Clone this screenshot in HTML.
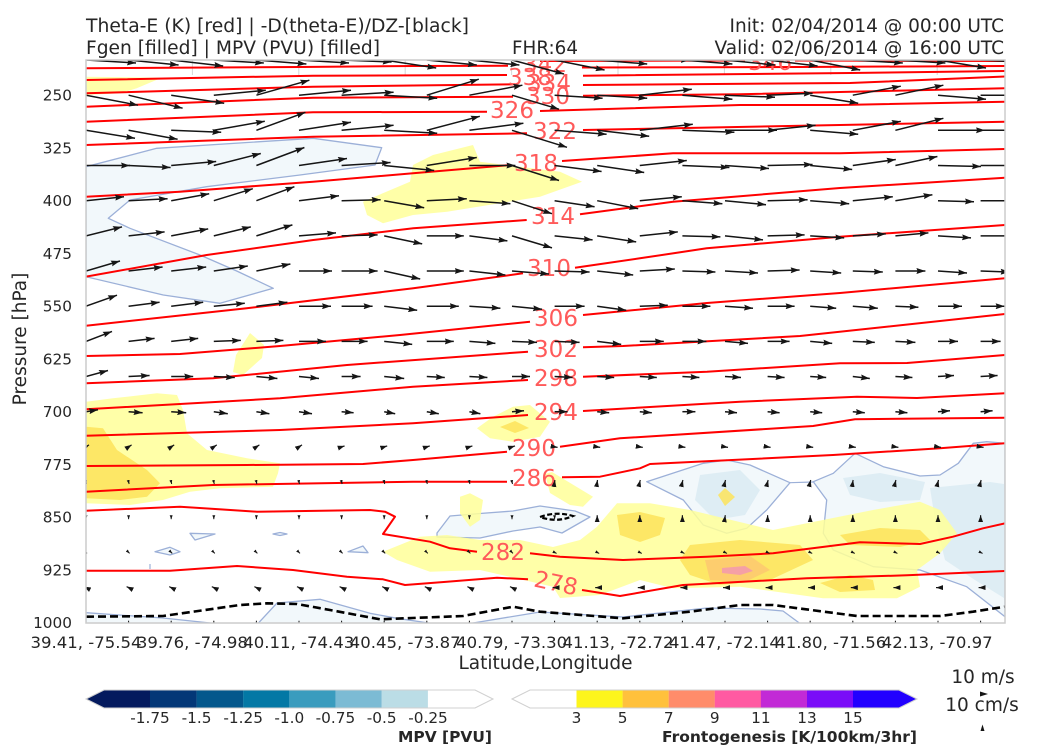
<!DOCTYPE html>
<html><head><meta charset="utf-8"><style>
html,body{margin:0;padding:0;background:#fff;overflow:hidden;}
svg{display:block;}
</style></head><body>
<svg width="1050" height="750" viewBox="0 0 1050 750" xmlns="http://www.w3.org/2000/svg" font-family="'DejaVu Sans', 'Liberation Sans', sans-serif">
<defs>
<clipPath id="p"><rect x="86" y="60" width="919" height="563"/></clipPath>
<marker id="a" viewBox="0 0 9 6" refX="9" refY="3" markerWidth="9" markerHeight="6" markerUnits="userSpaceOnUse" orient="auto"><path d="M0,0L9,3L0,6L1.2,3Z" fill="#151515"/></marker>
<marker id="b" viewBox="0 0 7 5" refX="7" refY="2.5" markerWidth="7" markerHeight="5" markerUnits="userSpaceOnUse" orient="auto"><path d="M0,0L7,2.5L0,5Z" fill="#151515"/></marker>
<marker id="c" viewBox="0 0 4 3" refX="4" refY="1.5" markerWidth="4" markerHeight="3" markerUnits="userSpaceOnUse" orient="auto"><path d="M0,0L4,1.5L0,3Z" fill="#151515"/></marker>
</defs>
<rect x="0" y="0" width="1050" height="750" fill="#fff"/>

<g clip-path="url(#p)">
<g stroke="#d6d6d6" stroke-width="1">
<line x1="192.4" y1="60" x2="192.4" y2="75"/><line x1="298.8" y1="60" x2="298.8" y2="75"/><line x1="405.2" y1="60" x2="405.2" y2="75"/><line x1="511.6" y1="60" x2="511.6" y2="75"/><line x1="618" y1="60" x2="618" y2="75"/><line x1="724.4" y1="60" x2="724.4" y2="75"/><line x1="830.8" y1="60" x2="830.8" y2="75"/><line x1="937.2" y1="60" x2="937.2" y2="75"/>
</g>

<g fill="#f2f8fb" stroke="#9cb0d8" stroke-width="1.3" stroke-linejoin="round">
<path d="M86,166.7L156.7,148.3L313.3,138.3L381.7,147.7L375,165L300,175L206.7,186.7L130,200L108.3,218.3L130,228.3L200,255L236.7,271L273.3,288.3L220,303.3L163.3,295L86,276.7Z"/>
<path d="M437,533L450,516L480,513.5L513,511L540,506L575,511L590,517L562,533L540,527L513,531L480,538L437,537Z"/>
<path d="M646.7,481.7L703.3,463.3L726.7,460L750,465L790,482.7L766.7,510L746.7,528.3L726.7,533.3L703.3,525L683.3,500Z"/>
<path d="M813.3,481.7L833.3,473.3L855,453.3L883.3,466.7L920,476L940,475L958.3,463.3L973.3,443.3L986.7,441.7L1005,443.3L1005,616.7L966.7,586.7L920,570L873.3,566.7L833.3,550L823.3,533.3L826.7,500Z"/>
<path d="M86,612.7L163,618L215,623.5L86,623.5Z"/>
<path d="M258,623.5L277,603L320,599.3L370,613.3L397,618.3L432,623.5Z"/>
<path d="M470,623.5L540,612L623,617L707,608L760,609L783,611L800,623.5Z"/>
<path d="M190,533.3L215,534L195,540Z"/>
<path d="M155,551.7L170,547.3L180,551.7L170,555Z"/>
<path d="M273,534L280,532.5L287,534L280,535.5Z"/>
<path d="M348,551.7L363,546L368,552.7Z"/>
</g>
<line x1="150" y1="564" x2="150" y2="569" stroke="#9cb0d8" stroke-width="1.2"/>
<line x1="790" y1="482.7" x2="813" y2="482" stroke="#9cb0d8" stroke-width="1.2"/>
<g fill="#deedf4">
<path d="M700,475L740,470L760,490L745,515L715,520L695,500Z"/>
<path d="M843,478L880,473L925,482L920,500L880,502L850,495Z"/>
<path d="M930,488L990,482L1004,484L1004,598L975,580L945,560L935,520Z"/>
</g>

<g fill="#ffff99" fill-opacity="0.85">
<path d="M86,76.7L161.7,77.7L136.7,88.3L120,93.3L86,95Z"/>
<path d="M413,165L433,155L473,145L480,161.7L560,171.7L582,181.7L540,196.7L447,211.7L413,215L383,223.3L367,215L363,201.7L410,181.7Z"/>
<path d="M250,333L264,345L262,358L243,375L233,372L236,355Z"/>
<path d="M86,401.7L113,398.3L157,393.3L177,395L183,410L187,433.3L207,450L247,458.3L280,463.3L278,473.3L273,486.7L220,488.3L190,491.7L163,500L130,505L86,503.3Z"/>
<path d="M477,428.3L493,416.7L513,406.7L530,405L550,421.7L540,436.7L513,441.7L490,438.3Z"/>
<path d="M545,474L552,472L593,496.7L583,506.7L570,505L550,493Z"/>
<path d="M460,496.7L470,493.3L483,500L480,520L470,526.7L460,513.3Z"/>
<path d="M383,551.7L420,536.7L447,535L480,540L520,540L553,547L580,540L597,526.7L617,503.3L650,503.3L690,510L773,530L823,520L873,510L920,501.7L940,510L957,533.3L940,553.3L917,570L920,586.7L897,598.3L823,598.3L740,586.7L673,588.3L640,580L600,595L560,598L553,586.7L480,570L430,571.7L397,560Z"/>
</g>
<g fill="#fde35a" fill-opacity="0.85">
<path d="M86,426.7L103,428.3L117,450L147,470L160,483.3L147,496.7L120,500L86,498.3Z"/>
<path d="M500,427L515,421L529,428L515,433Z"/>
<path d="M617,515L640,512L665,518L660,535L640,542L620,535Z"/>
<path d="M690,545L740,540L800,545L813,560L770,580L720,585L690,575L680,560Z"/>
<path d="M820,583L850,575L873,580L875,590L840,592Z"/>
<path d="M840,535L880,528L920,530L930,540L900,547L850,545Z"/>
<path d="M718,495L725,488L735,497L725,506Z"/>
</g>
<path d="M705,560L750,556L770,570L745,582L710,580Z" fill="#fdc870" fill-opacity="0.85"/>
<path d="M722,568L745,566L753,571L740,575L722,573Z" fill="#f5a0a5"/>

<g fill="none" stroke="#ff0000" stroke-width="2" stroke-linejoin="round">
<path d="M540,61L745,60.5M795,60.5L1005,61"/>
<path d="M86,68.3L300,67L413,66L508,65.7M582,67.5L800,67L1005,66"/>
<path d="M86,80L313,75.7L507,75M583,75.7L850,73L1005,71"/>
<path d="M86,93.3L313,86.7L515,84.3M583,85L850,83L1005,76.5"/>
<path d="M86,106.7L313,97.7L513,96.7M583,95.7L740,94.3L1005,88.3"/>
<path d="M86,121.7L313,112.3L487,111.7M540,111L740,105L840,105L1005,101.7"/>
<path d="M86,145L313,136.7L527,133.3M583,130L840,125L1005,121.7"/>
<path d="M86,196.7L180,191.7L313,181.7L413,173.3L510,165M562,161L673,153.3L840,153.3L1005,149"/>
<path d="M86,276.7L206.7,255L313.3,240L413.3,228.3L526.7,220M580,214.3L673,201.7L840,188L1005,177.7"/>
<path d="M86,325.7L246.7,308.3L413.3,288.3L523,273.3M575,267.7L640,258.3L706.7,248.3L840,236.7L1005,225"/>
<path d="M86,356L180,354L280,346L400,335L530,321.7M583,315L707,303L840,293L1005,278.3"/>
<path d="M86,383.3L213,378.3L347,365L528,351.7M583,347.3L623,346L800,336L1005,314"/>
<path d="M86,409.3L280,398.3L413,386.7L528,380M583,376.7L707,371.7L840,363.3L907,363L1005,355"/>
<path d="M86,435.7L280,430L413,423.3L528,415M583,411L740,401.7L857,396.7L917,398L1005,393.3"/>
<path d="M86,466L247,465L363,464L413,460L507,451.7M560,446.7L620,438.3L813,426L855,419.3L1005,417.7"/>
<path d="M86,491.7L213,485L413,481.7L507,481.7M562,477.3L600,476.7L640,468.3L650,464L833,455L940,448.3L1005,443.3"/>
<path d="M86,510.7L180,506.7L257,511.7L370,510L385,511.7L395,516.7L383,534L430,541.7L450,548.3L477,551.7M530,553.3L560,556.7L623,560L707,556.7L773,553.3L860,542.3L920,544L953,536.7L983,528.3L1005,523.3"/>
<path d="M86,570.7L170,570.7L237,566L293,570L347,576.7L383,579.3L405,585L447,581.7L497,577.7L528,579.3M582,590L620,596L683,585L807,578.3L907,575.3L1005,571"/>
</g>

<g fill="none" stroke="#000" stroke-width="2.6" stroke-dasharray="8,4">
<path d="M86,616.7L163,616L240,605L267,603.3L297,604L330,610L380,619.3L463,616L513,606.7L540,611.7L560,613.3L623,618.3L690,611.7L740,605L773,605L857,616L940,616L973,611.7L1005,606.7"/>
<path d="M540,517Q556,511 573,516Q557,523 540,517Z" stroke-dasharray="5,2.5" stroke-width="2.2"/>
</g>

<g fill="#ff5a5a" font-size="23" text-anchor="middle">
<text x="770" y="70">346</text>
<text x="545" y="72">342</text>
<text x="530" y="85">338</text>
<text x="549" y="91">334</text>
<text x="548" y="104">330</text>
<text x="512" y="118">326</text>
<text x="555" y="139">322</text>
<text x="536" y="171">318</text>
<text x="553" y="224">314</text>
<text x="549" y="276">310</text>
<text x="556" y="326">306</text>
<text x="556" y="357">302</text>
<text x="556" y="386">298</text>
<text x="556" y="420">294</text>
<text x="534" y="456">290</text>
<text x="534" y="486">286</text>
<text x="503" y="560">282</text>
<text x="556" y="591" transform="rotate(12 556 583)">278</text>
</g>

<g fill="none" stroke="#151515" stroke-width="1.5" marker-end="url(#a)">
<path d="M86,60l50,3"/><path d="M128.6,60l50,5"/><path d="M171.2,60l52,6"/><path d="M213.8,60l50,3"/><path d="M256.4,60l50,4"/><path d="M299,60l50,3"/><path d="M341.6,60l50,2"/><path d="M384.2,60l52,8"/><path d="M426.8,60l50,5"/><path d="M469.4,60l50,5"/><path d="M512,60l52,14"/><path d="M554.6,60l50,10"/><path d="M597.2,60l50,4"/><path d="M639.8,60l50,0"/><path d="M682.4,60l50,4"/><path d="M725,60l50,5"/><path d="M767.6,60l50,6"/><path d="M810.2,60l50,10"/><path d="M852.8,60l50,3"/><path d="M895.4,60l50,3"/><path d="M938,60l48,8"/><path d="M980.6,60l40,2"/>

<path d="M86,95.2l52,10"/><path d="M128.6,95.2l54,13"/><path d="M171.2,95.2l53,8"/><path d="M213.8,95.2l52,-5"/><path d="M256.4,95.2l53,-15"/><path d="M299,95.2l52,-5"/><path d="M341.6,95.2l52,-3"/><path d="M384.2,95.2l53,3"/><path d="M426.8,95.2l52,-16"/><path d="M469.4,95.2l53,-10"/><path d="M512,95.2l47,14"/><path d="M554.6,95.2l48,3"/><path d="M597.2,95.2l50,3"/><path d="M639.8,95.2l52,-6"/><path d="M682.4,95.2l50,4"/><path d="M725,95.2l50,2"/><path d="M767.6,95.2l45,-2"/><path d="M810.2,95.2l48,8"/><path d="M852.8,95.2l48,-9"/><path d="M895.4,95.2l48,-10"/><path d="M938,95.2l48,4"/><path d="M980.6,95.2l40,0"/>

<path d="M86,130.3l49,8"/><path d="M128.6,130.3l49,9"/><path d="M171.2,130.3l50,2"/><path d="M213.8,130.3l51,-9"/><path d="M256.4,130.3l49,-18"/><path d="M299,130.3l52,-8"/><path d="M341.6,130.3l52,-5"/><path d="M384.2,130.3l53,3"/><path d="M426.8,130.3l53,-14"/><path d="M469.4,130.3l54,-7"/><path d="M512,130.3l55,17"/><path d="M554.6,130.3l52,4"/><path d="M597.2,130.3l52,6"/><path d="M639.8,130.3l53,-6"/><path d="M682.4,130.3l52,2"/><path d="M725,130.3l52,0"/><path d="M767.6,130.3l48,-5"/><path d="M810.2,130.3l48,4"/><path d="M852.8,130.3l48,-9"/><path d="M895.4,130.3l48,-12"/><path d="M938,130.3l47,0"/><path d="M980.6,130.3l47,0"/>

<path d="M86,165.5l44,0"/><path d="M128.6,165.5l42,2"/><path d="M171.2,165.5l45,-4"/><path d="M213.8,165.5l47,-12"/><path d="M256.4,165.5l48,-18"/><path d="M299,165.5l48,-7"/><path d="M341.6,165.5l49,-3"/><path d="M384.2,165.5l50,5"/><path d="M426.8,165.5l50,-8"/><path d="M469.4,165.5l46,0"/><path d="M512,165.5l47,15"/><path d="M554.6,165.5l47,6"/><path d="M597.2,165.5l47,7"/><path d="M639.8,165.5l47,-5"/><path d="M682.4,165.5l47,2"/><path d="M725,165.5l44,3"/><path d="M767.6,165.5l45,-1"/><path d="M810.2,165.5l42,4"/><path d="M852.8,165.5l43,-6"/><path d="M895.4,165.5l42,-9"/><path d="M938,165.5l43,1"/><path d="M980.6,165.5l40,0"/>

<path d="M86,200.7l38,-4"/><path d="M128.6,200.7l39,-2"/><path d="M171.2,200.7l38,-7"/><path d="M213.8,200.7l39,-12"/><path d="M256.4,200.7l38,-14"/><path d="M299,200.7l40,-5"/><path d="M341.6,200.7l39,-1"/><path d="M384.2,200.7l40,7"/><path d="M426.8,200.7l40,-2"/><path d="M469.4,200.7l41,3"/><path d="M512,200.7l40,13"/><path d="M554.6,200.7l40,6"/><path d="M597.2,200.7l41,8"/><path d="M639.8,200.7l42,-4"/><path d="M682.4,200.7l40,3"/><path d="M725,200.7l41,4"/><path d="M767.6,200.7l40,-1"/><path d="M810.2,200.7l39,3"/><path d="M852.8,200.7l40,-4"/><path d="M895.4,200.7l37,-6"/><path d="M938,200.7l36,1"/><path d="M980.6,200.7l36,0"/>

<path d="M86,235.9l36,-9"/><path d="M128.6,235.9l36,-4"/><path d="M171.2,235.9l37,-7"/><path d="M213.8,235.9l37,-9"/><path d="M256.4,235.9l36,-11"/><path d="M299,235.9l37,-3"/><path d="M341.6,235.9l36,-1"/><path d="M384.2,235.9l38,8"/><path d="M426.8,235.9l37,0"/><path d="M469.4,235.9l38,5"/><path d="M512,235.9l40,12"/><path d="M554.6,235.9l38,4"/><path d="M597.2,235.9l39,6"/><path d="M639.8,235.9l38,-4"/><path d="M682.4,235.9l38,1"/><path d="M725,235.9l38,4"/><path d="M767.6,235.9l37,-1"/><path d="M810.2,235.9l34,2"/><path d="M852.8,235.9l33,-2"/><path d="M895.4,235.9l33,-3"/><path d="M938,235.9l33,2"/><path d="M980.6,235.9l33,0"/>

<path d="M86,271l34,-10"/><path d="M128.6,271l34,-4"/><path d="M171.2,271l35,-4"/><path d="M213.8,271l34,-5"/><path d="M256.4,271l34,-7"/><path d="M299,271l33,0"/><path d="M341.6,271l36,0"/><path d="M384.2,271l36,8"/><path d="M426.8,271l37,0"/><path d="M469.4,271l36,4"/><path d="M512,271l37,3"/><path d="M554.6,271l35,1"/><path d="M597.2,271l36,4"/><path d="M639.8,271l35,-2"/><path d="M682.4,271l33,1"/><path d="M725,271l33,2"/><path d="M767.6,271l32,-1"/><path d="M810.2,271l31,2"/><path d="M852.8,271l30,1"/><path d="M895.4,271l30,0"/><path d="M938,271l29,2"/><path d="M980.6,271l29,1"/>

<path d="M86,306.2l31,-11"/><path d="M128.6,306.2l31,-4"/><path d="M171.2,306.2l32,-4"/><path d="M213.8,306.2l31,-3"/><path d="M256.4,306.2l31,-4"/><path d="M299,306.2l32,0"/><path d="M341.6,306.2l31,0"/><path d="M384.2,306.2l33,4"/><path d="M426.8,306.2l32,0"/><path d="M469.4,306.2l31,2"/><path d="M512,306.2l30,3"/><path d="M554.6,306.2l30,0"/><path d="M597.2,306.2l29,4"/><path d="M639.8,306.2l28,-1"/><path d="M682.4,306.2l28,0"/><path d="M725,306.2l28,2"/><path d="M767.6,306.2l27,0"/><path d="M810.2,306.2l26,2"/><path d="M852.8,306.2l25,2"/><path d="M895.4,306.2l23,1"/><path d="M938,306.2l24,0"/><path d="M980.6,306.2l24,0"/>

<path d="M86,341.4l26,-10"/><path d="M128.6,341.4l26,-3"/><path d="M171.2,341.4l27,-3"/><path d="M213.8,341.4l27,-1"/><path d="M256.4,341.4l27,-1"/><path d="M299,341.4l27,0"/><path d="M341.6,341.4l26,0"/><path d="M384.2,341.4l28,3"/><path d="M426.8,341.4l27,0"/><path d="M469.4,341.4l26,2"/><path d="M512,341.4l25,1"/><path d="M554.6,341.4l25,1"/><path d="M597.2,341.4l24,3"/><path d="M639.8,341.4l24,0"/><path d="M682.4,341.4l24,0"/><path d="M725,341.4l23,2"/><path d="M767.6,341.4l22,0"/><path d="M810.2,341.4l22,2"/><path d="M852.8,341.4l22,1"/><path d="M895.4,341.4l20,1"/><path d="M938,341.4l20,0"/><path d="M980.6,341.4l20,0"/>

<path d="M86,376.5l22,-6"/><path d="M128.6,376.5l21,-1"/><path d="M171.2,376.5l22,0"/><path d="M213.8,376.5l21,1"/><path d="M256.4,376.5l21,2"/><path d="M299,376.5l20,2"/><path d="M341.6,376.5l19,0"/><path d="M384.2,376.5l20,2"/><path d="M426.8,376.5l18,1"/><path d="M469.4,376.5l18,1"/><path d="M512,376.5l18,0"/><path d="M554.6,376.5l18,1"/><path d="M597.2,376.5l17,1"/><path d="M639.8,376.5l17,1"/><path d="M682.4,376.5l17,1"/><path d="M725,376.5l16,1"/><path d="M767.6,376.5l17,1"/><path d="M810.2,376.5l16,1"/><path d="M852.8,376.5l17,2"/><path d="M895.4,376.5l17,1"/><path d="M938,376.5l16,-1"/><path d="M980.6,376.5l17,-1"/>

<path d="M86,411.7l12,-2"/><path d="M128.6,411.7l14,1"/><path d="M171.2,411.7l15,1"/><path d="M213.8,411.7l14,2"/><path d="M256.4,411.7l13,2"/><path d="M299,411.7l13,2"/><path d="M341.6,411.7l12,1"/><path d="M384.2,411.7l11,2"/><path d="M426.8,411.7l12,2"/><path d="M469.4,411.7l11,2"/><path d="M512,411.7l12,-1"/><path d="M554.6,411.7l13,0"/><path d="M597.2,411.7l12,1"/><path d="M639.8,411.7l12,1"/><path d="M682.4,411.7l13,0"/><path d="M725,411.7l12,1"/><path d="M767.6,411.7l12,1"/><path d="M810.2,411.7l12,1"/><path d="M852.8,411.7l12,1"/><path d="M895.4,411.7l12,1"/><path d="M938,411.7l12,-1"/><path d="M980.6,411.7l12,-1"/>
</g>

<g fill="none" stroke="#151515" stroke-width="1.2" marker-end="url(#b)">
<path d="M86,446.9l3,-2"/><path d="M128.6,446.9l3,-2"/><path d="M171.2,446.9l3,-2"/><path d="M213.8,446.9l3,-2"/><path d="M256.4,446.9l3,-2"/><path d="M299,446.9l3,-2"/><path d="M341.6,446.9l3,-1"/><path d="M384.2,446.9l3,-1"/><path d="M426.8,446.9l3,-1"/><path d="M469.4,446.9l3,-1"/><path d="M512,446.9l3,-1"/><path d="M554.6,446.9l3,0.5"/><path d="M597.2,446.9l3,0.5"/><path d="M639.8,446.9l3,0.5"/><path d="M682.4,446.9l3,0.5"/><path d="M725,446.9l3,0.5"/><path d="M767.6,446.9l3,0.5"/><path d="M810.2,446.9l3,0.5"/><path d="M852.8,446.9l3,0.5"/><path d="M895.4,446.9l3,0.5"/><path d="M938,446.9l3,0.5"/><path d="M980.6,446.9l3,0.5"/>

<path d="M554.6,482l0.3,-2"/><path d="M597.2,482l0.3,-2"/><path d="M639.8,482l0.5,-2"/><path d="M682.4,482l0.5,-2"/><path d="M725,482l0.5,-2"/><path d="M767.6,482l0.5,-2"/><path d="M810.2,482l0.5,-2"/><path d="M852.8,482l0.3,-2"/><path d="M895.4,482l0.5,-2"/><path d="M938,482l0.5,-2"/><path d="M980.6,482l0.5,-2"/>

<path d="M597.2,517.2l0,-2"/><path d="M639.8,517.2l0,-2"/><path d="M682.4,517.2l0,-2"/><path d="M725,517.2l0.3,-2"/><path d="M767.6,517.2l0,-2"/><path d="M810.2,517.2l0,-2"/><path d="M852.8,517.2l0,-2"/><path d="M895.4,517.2l0,-2"/><path d="M938,517.2l0,-2"/><path d="M980.6,517.2l0,-2"/>

<path d="M86,587.6l-2,-1"/><path d="M128.6,587.6l-2,-1"/><path d="M171.2,587.6l-2,-1"/><path d="M213.8,587.6l-2,-1"/><path d="M256.4,587.6l-2,-1"/><path d="M299,587.6l-2,-1"/><path d="M341.6,587.6l-2,-1"/><path d="M384.2,587.6l-2,-1"/><path d="M426.8,587.6l-2,-1"/><path d="M469.4,587.6l-2,-1"/><path d="M512,587.6l-2,-1"/><path d="M554.6,587.6l-2,0"/><path d="M597.2,587.6l-2,0"/><path d="M639.8,587.6l-2,0"/><path d="M682.4,587.6l-2,0"/><path d="M725,587.6l-2,0"/><path d="M767.6,587.6l-2,0"/><path d="M810.2,587.6l-2,0"/><path d="M852.8,587.6l-2,0"/><path d="M895.4,587.6l-2,0"/><path d="M938,587.6l-2,0"/><path d="M980.6,587.6l-2,0"/>
</g>

<g fill="none" stroke="#151515" stroke-width="1" marker-end="url(#c)">
<path d="M86,482l0.5,2"/><path d="M128.6,482l0.5,2"/><path d="M171.2,482l0.5,2"/><path d="M213.8,482l0.5,2"/><path d="M256.4,482l0.5,2"/><path d="M299,482l0.5,2"/><path d="M341.6,482l0.5,2"/><path d="M384.2,482l0.5,2"/><path d="M426.8,482l0.5,2"/><path d="M469.4,482l0.5,2"/><path d="M512,482l0.5,2"/>
<path d="M86,517.2l0,2"/><path d="M128.6,517.2l0,2"/><path d="M171.2,517.2l0,2"/><path d="M213.8,517.2l0,2"/><path d="M256.4,517.2l0,2"/><path d="M299,517.2l0,2"/><path d="M341.6,517.2l0,2"/><path d="M384.2,517.2l0,2"/><path d="M426.8,517.2l0,2"/><path d="M469.4,517.2l0,2"/><path d="M512,517.2l0,2"/><path d="M554.6,517.2l0,2"/>
<path d="M86,552.4l1,1"/><path d="M128.6,552.4l1,1"/><path d="M171.2,552.4l1,1"/><path d="M213.8,552.4l1,1"/><path d="M256.4,552.4l1,1"/><path d="M299,552.4l1,1"/><path d="M341.6,552.4l1,1"/><path d="M384.2,552.4l1,1"/><path d="M426.8,552.4l1,1"/><path d="M469.4,552.4l1,1"/><path d="M512,552.4l1,1"/><path d="M554.6,552.4l2,1"/><path d="M597.2,552.4l2,1"/><path d="M639.8,552.4l2,1"/><path d="M682.4,552.4l2,1"/><path d="M725,552.4l2,1"/><path d="M767.6,552.4l2,1"/><path d="M810.2,552.4l2,1"/><path d="M852.8,552.4l2,1"/><path d="M895.4,552.4l2,1"/><path d="M938,552.4l2,1"/><path d="M980.6,552.4l2,1"/>
<path d="M128.6,622.7l0,-2"/><path d="M171.2,622.7l0,-2"/><path d="M213.8,622.7l0,-2"/><path d="M256.4,622.7l0,-2"/><path d="M299,622.7l0,-2"/><path d="M341.6,622.7l0,-2"/><path d="M384.2,622.7l0,-2"/><path d="M426.8,622.7l0,-2"/><path d="M469.4,622.7l0,-2"/><path d="M512,622.7l0,-2"/><path d="M554.6,622.7l0,-2"/><path d="M597.2,622.7l0,-2"/><path d="M639.8,622.7l0,-2"/><path d="M682.4,622.7l0,-2"/><path d="M725,622.7l0,-2"/><path d="M767.6,622.7l0,-2"/><path d="M810.2,622.7l0,-2"/><path d="M852.8,622.7l0,-2"/><path d="M895.4,622.7l0,-2"/><path d="M938,622.7l0,-2"/><path d="M980.6,622.7l0,-2"/>
</g>
</g>

<rect x="86" y="60" width="919" height="563" fill="none" stroke="#cccccc" stroke-width="1.5"/>

<g fill="#262626" font-size="18.5">
<text x="86" y="32" textLength="383" lengthAdjust="spacingAndGlyphs">Theta-E (K) [red] | -D(theta-E)/DZ-[black]</text>
<text x="86" y="54" textLength="294" lengthAdjust="spacingAndGlyphs">Fgen [filled] | MPV (PVU) [filled]</text>
<text x="512" y="54" textLength="66" lengthAdjust="spacingAndGlyphs">FHR:64</text>
<text x="1004" y="32" text-anchor="end">Init: 02/04/2014 @ 00:00 UTC</text>
<text x="1004" y="54" text-anchor="end">Valid: 02/06/2014 @ 16:00 UTC</text>
</g>

<g fill="#262626" font-size="15.3" text-anchor="end">
<text x="72" y="100.7">250</text>
<text x="72" y="153.4">325</text>
<text x="72" y="206.2">400</text>
<text x="72" y="258.9">475</text>
<text x="72" y="311.7">550</text>
<text x="72" y="364.5">625</text>
<text x="72" y="417.2">700</text>
<text x="72" y="470">775</text>
<text x="72" y="522.7">850</text>
<text x="72" y="575.5">925</text>
<text x="72" y="628.2">1000</text>
</g>
<text x="26" y="339" transform="rotate(-90 26 339)" font-size="18.5" fill="#262626" text-anchor="middle">Pressure [hPa]</text>

<g fill="#262626" font-size="16.3" text-anchor="middle">
<text x="86" y="648" textLength="111" lengthAdjust="spacingAndGlyphs">39.41, -75.54</text>
<text x="192.4" y="648" textLength="111" lengthAdjust="spacingAndGlyphs">39.76, -74.98</text>
<text x="298.8" y="648" textLength="111" lengthAdjust="spacingAndGlyphs">40.11, -74.43</text>
<text x="405.2" y="648" textLength="111" lengthAdjust="spacingAndGlyphs">40.45, -73.87</text>
<text x="511.6" y="648" textLength="111" lengthAdjust="spacingAndGlyphs">40.79, -73.30</text>
<text x="618" y="648" textLength="111" lengthAdjust="spacingAndGlyphs">41.13, -72.72</text>
<text x="724.4" y="648" textLength="111" lengthAdjust="spacingAndGlyphs">41.47, -72.14</text>
<text x="830.8" y="648" textLength="111" lengthAdjust="spacingAndGlyphs">41.80, -71.56</text>
<text x="937.2" y="648" textLength="111" lengthAdjust="spacingAndGlyphs">42.13, -70.97</text>
</g>
<text x="545.5" y="669" font-size="18.5" fill="#262626" text-anchor="middle">Latitude,Longitude</text>

<path d="M86,699L104,690L150,690L150,708L104,708Z" fill="#041a5e"/>
<rect x="150" y="690" width="46.7" height="18" fill="#033777"/>
<rect x="196.6" y="690" width="46.7" height="18" fill="#03578c"/>
<rect x="243.2" y="690" width="46.2" height="18" fill="#0378a5"/>
<rect x="289.3" y="690" width="46.2" height="18" fill="#3a9cbe"/>
<rect x="335.4" y="690" width="46.4" height="18" fill="#7cbbd4"/>
<rect x="381.7" y="690" width="46.2" height="18" fill="#bbdde6"/>
<path d="M86,699L104,690L475,690L493,699L475,708L104,708Z" fill="none" stroke="#d0d0d0" stroke-width="1"/>
<g fill="#262626" font-size="15.3" text-anchor="middle">
<text x="150" y="723">-1.75</text>
<text x="196.6" y="723">-1.5</text>
<text x="243.2" y="723">-1.25</text>
<text x="289.3" y="723">-1.0</text>
<text x="335.4" y="723">-0.75</text>
<text x="381.7" y="723">-0.5</text>
<text x="428" y="723">-0.25</text>
</g>
<text x="492" y="742" font-size="15.5" font-weight="bold" fill="#262626" text-anchor="end" textLength="94" lengthAdjust="spacingAndGlyphs">MPV [PVU]</text>

<rect x="576.5" y="690" width="46.2" height="18" fill="#fdf51c"/>
<rect x="622.6" y="690" width="46.2" height="18" fill="#ffc13c"/>
<rect x="668.7" y="690" width="46.2" height="18" fill="#ff8c6a"/>
<rect x="714.8" y="690" width="46.2" height="18" fill="#ff5aa2"/>
<rect x="760.9" y="690" width="46.2" height="18" fill="#c22ad6"/>
<rect x="807" y="690" width="46.2" height="18" fill="#7a0cf8"/>
<path d="M853,690L899,690L917,699L899,708L853,708Z" fill="#2200ff"/>
<path d="M512,699L530,690L899,690L917,699L899,708L530,708Z" fill="none" stroke="#d0d0d0" stroke-width="1"/>
<g fill="#262626" font-size="15.3" text-anchor="middle">
<text x="576.5" y="723">3</text>
<text x="622.6" y="723">5</text>
<text x="668.7" y="723">7</text>
<text x="714.8" y="723">9</text>
<text x="760.9" y="723">11</text>
<text x="807" y="723">13</text>
<text x="853" y="723">15</text>
</g>
<text x="917" y="742" font-size="15.5" font-weight="bold" fill="#262626" text-anchor="end" textLength="255" lengthAdjust="spacingAndGlyphs">Frontogenesis [K/100km/3hr]</text>

<text x="983" y="683" font-size="18.5" fill="#262626" text-anchor="middle">10 m/s</text>
<text x="982" y="711" font-size="18.5" fill="#262626" text-anchor="middle">10 cm/s</text>
<path d="M980,691.5L988,694L980,696.5Z" fill="#151515"/>
<path d="M980.5,731L982.5,724.5L984.5,731Z" fill="#151515"/>
</svg>
</body></html>
